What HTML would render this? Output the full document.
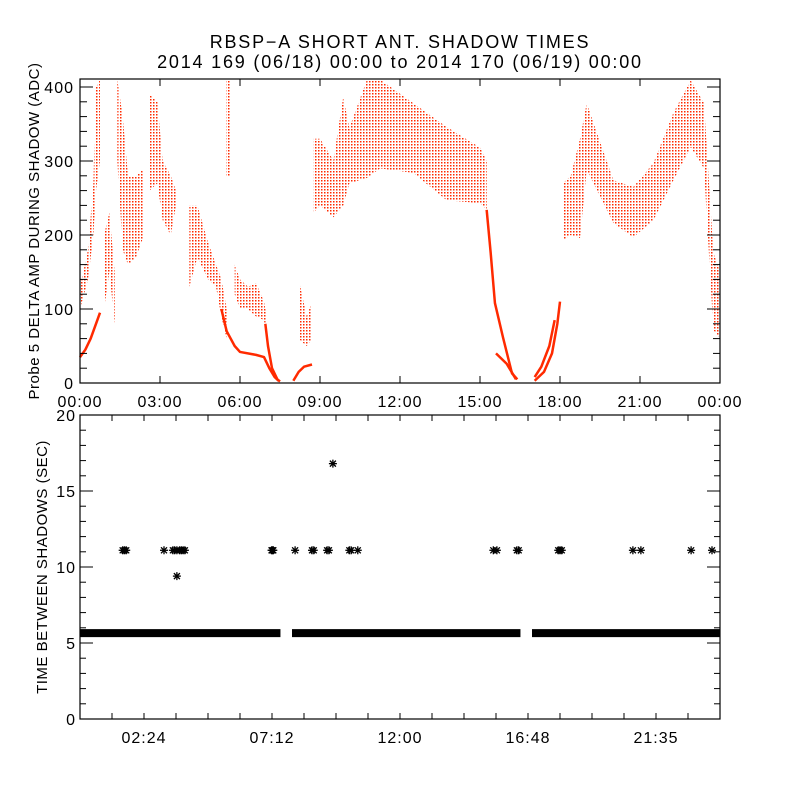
<!DOCTYPE html>
<html><head><meta charset="utf-8"><style>
html,body{margin:0;padding:0;background:#fff;}
svg{display:block;font-family:"Liberation Sans",sans-serif;}
</style></head><body>
<svg id="chart" width="800" height="800" viewBox="0 0 800 800">
<defs>
<pattern id="dots" width="3" height="3" patternUnits="userSpaceOnUse"><rect x="0" y="0" width="1.5" height="1.5" fill="#ff2a00"/></pattern>
</defs>
<text x="400" y="48" text-anchor="middle" font-size="18" letter-spacing="1.8">RBSP−A SHORT ANT. SHADOW TIMES</text>
<text x="400" y="68" text-anchor="middle" font-size="18" letter-spacing="1.8">2014 169 (06/18) 00:00 to 2014 170 (06/19) 00:00</text>
<g id="topPanel"></g>
<g id="botPanel"></g>
</svg>
<script>
// ---- top panel data (hours, ADC) ; null separates segments
const bandHours = [0.0,0.3,0.5,0.6,0.75,null, 0.9,1.1,1.3,null, 1.4,1.6,1.8,2.1,2.4,null, 2.6,2.9,3.1,3.4,3.6,null, 4.1,4.4,4.8,5.1,5.3,5.5,null, 5.48,5.62,null, 5.8,6.0,6.3,6.6,6.9,7.0,null, 8.2,8.5,8.7,null, 8.75,9.0,9.5,9.87,10.1,10.75,11.25,12.5,13.75,15.0,15.25,null, 18.1,18.4,18.75,19.0,20.0,20.75,21.5,22.25,22.9,23.4,23.75,24.0];
const bandLow   = [100,140,200,260,300,null, 100,150,80,null, 300,180,160,170,200,null, 260,270,220,200,240,null, 130,170,140,130,90,60,null, 280,280,null, 120,100,100,90,85,60,null, 60,50,60,null, 230,240,224,240,270,277,290,284,247,243,234,null, 193,200,196,288,216,197,220,274,319,290,72,60];
const bandHigh  = [130,180,270,400,410,null, 200,230,150,null, 410,360,280,280,290,null, 390,380,300,280,260,null, 240,240,190,160,140,100,null, 410,410,null, 160,140,130,135,110,90,null, 140,90,110,null, 330,330,301,386,345,409,410,378,346,318,300,null, 270,280,330,378,274,265,297,365,409,378,176,150];
const curveHours  = [0,0.2,0.4,0.6,0.75,null, 5.3,5.5,5.8,6.0,6.6,6.9,7.1,7.3,7.45,null, 6.95,7.05,7.2,7.4,7.5,null, 8.0,8.2,8.4,8.7,null, 15.25,15.4,15.56,15.86,16.2,16.4,null, 15.6,16.0,16.35,null, 17.05,17.4,17.7,17.9,18.0,null, 17.05,17.3,17.6,17.8];
const curveValues = [35,45,60,80,95,null, 100,70,50,42,38,35,20,8,3,null, 80,50,20,5,2,null, 3,15,22,25,null, 234,176,108,62,13,5,null, 40,26,5,null, 3,15,40,80,110,null, 8,22,50,85];
const topYTicks = [0,100,200,300,400];
const topXLabels = ["00:00","03:00","06:00","09:00","12:00","15:00","18:00","21:00","00:00"];
// ---- bottom panel data (minutes, seconds)
const runStart = [0,477,1017];
const runEnd   = [451,991,1440];
const runValue = [5.65,5.65,5.65];
const starMinutes = [96,100,104,189,209,213,218,224,228,232,236,218,431,433,435,484,522,526,556,560,569,606,610,625,930,938,983,987,1076,1080,1084,1244,1262,1375,1422];
const starValues  = [11.1,11.1,11.1,11.1,11.1,11.1,11.1,11.1,11.1,11.1,11.1,9.4,11.1,11.1,11.1,11.1,11.1,11.1,11.1,11.1,16.8,11.1,11.1,11.1,11.1,11.1,11.1,11.1,11.1,11.1,11.1,11.1,11.1,11.1,11.1];
const botYTicks = [0,5,10,15,20];
const botXLabels = ["02:24","07:12","12:00","16:48","21:35"];

const NS="http://www.w3.org/2000/svg";
function mk(tag,attrs,parent){const e=document.createElementNS(NS,tag);for(const k in attrs)e.setAttribute(k,attrs[k]);parent.appendChild(e);return e;}
const L=80,R=720;
const tx=h=>L+h/24*(R-L);
const tT=79,tB=383, ty=v=>tB-v*0.74;
const bT=415,bB=719, by=v=>bB-v*(bB-bT)/20;
const bx=m=>L+m/1440*(R-L);

const topG=document.getElementById('topPanel');
let seg=[];
function flushBand(){ if(seg.length<2){seg=[];return;}
  const pts=seg.map(p=>tx(p[0])+','+ty(p[2])).concat(seg.slice().reverse().map(p=>tx(p[0])+','+ty(p[1])));
  const poly=mk('polygon',{points:pts.join(' '),fill:'url(#dots)'},topG);
  
  
  seg=[];}
for(let i=0;i<bandHours.length;i++){ if(bandHours[i]===null){flushBand();continue;} seg.push([bandHours[i],bandLow[i],bandHigh[i]]); }
flushBand();
let cs=[];
function flushCurve(){ if(cs.length<2){cs=[];return;}
  const pl=mk('polyline',{points:cs.join(' '),fill:'none',stroke:'#ff2a00','stroke-width':2.5,'stroke-linejoin':'round'},topG);
  
  
  cs=[];}
for(let i=0;i<curveHours.length;i++){ if(curveHours[i]===null){flushCurve();continue;} cs.push(tx(curveHours[i])+','+ty(curveValues[i])); }
flushCurve();
const tbox=mk('rect',{x:L,y:tT,width:R-L,height:tB-tT,fill:'none',stroke:'#000','stroke-width':1.2},topG);


for(let v=0;v<=400;v+=20){const major=v%100===0;const len=major?13:7;
  mk('line',{x1:L,x2:L+len,y1:ty(v),y2:ty(v),stroke:'#000'},topG);
  mk('line',{x1:R,x2:R-len,y1:ty(v),y2:ty(v),stroke:'#000'},topG);}
topYTicks.forEach(v=>{const t=mk('text',{x:74,y:ty(v)+6,'text-anchor':'end','font-size':16,'letter-spacing':1},topG);t.textContent=v;
  
  });
topXLabels.forEach((s,i)=>{const x=tx(i*3);
  mk('line',{x1:x,x2:x,y1:tB,y2:tB-7,stroke:'#000'},topG);
  mk('line',{x1:x,x2:x,y1:tT,y2:tT+7,stroke:'#000'},topG);
  const t=mk('text',{x:x,y:407,'text-anchor':'middle','font-size':16,'letter-spacing':1},topG);t.textContent=s;
  
  });
const tyt=mk('text',{x:0,y:0,'text-anchor':'middle','font-size':15,'letter-spacing':0.5,transform:'translate(39,231) rotate(-90)'},topG);
tyt.textContent='Probe 5 DELTA AMP DURING SHADOW (ADC)';



const botG=document.getElementById('botPanel');
runStart.forEach((s,i)=>{const r=mk('rect',{x:bx(s),y:by(runValue[i])-4,width:bx(runEnd[i])-bx(s),height:8,fill:'#000'},botG);
  
  });
starMinutes.forEach((m,i)=>{const cx=bx(m),cy=by(starValues[i]);
  const g=mk('g',{stroke:'#000','stroke-width':1.3},botG);
  
  
  mk('line',{x1:cx-4,x2:cx+4,y1:cy,y2:cy},g);
  mk('line',{x1:cx,x2:cx,y1:cy-4,y2:cy+4},g);
  mk('line',{x1:cx-3,x2:cx+3,y1:cy-3,y2:cy+3},g);
  mk('line',{x1:cx-3,x2:cx+3,y1:cy+3,y2:cy-3},g);});
const bbox=mk('rect',{x:L,y:bT,width:R-L,height:bB-bT,fill:'none',stroke:'#000','stroke-width':1.2},botG);


for(let v=0;v<=20;v++){const major=v%5===0;const len=major?13:6;
  mk('line',{x1:L,x2:L+len,y1:by(v),y2:by(v),stroke:'#000'},botG);
  mk('line',{x1:R,x2:R-len,y1:by(v),y2:by(v),stroke:'#000'},botG);}
botYTicks.forEach(v=>{const t=mk('text',{x:76,y:by(v)+6,'text-anchor':'end','font-size':16,'letter-spacing':1},botG);t.textContent=v;
  
  });
for(let m=72;m<1440;m+=72){const x=bx(m);
  mk('line',{x1:x,x2:x,y1:bB,y2:bB-6,stroke:'#000'},botG);
  mk('line',{x1:x,x2:x,y1:bT,y2:bT+6,stroke:'#000'},botG);}
botXLabels.forEach((s,i)=>{const x=bx(144+i*288);
  const t=mk('text',{x:x,y:743,'text-anchor':'middle','font-size':16,'letter-spacing':1},botG);t.textContent=s;
  
  });
const byt=mk('text',{x:0,y:0,'text-anchor':'middle','font-size':15,'letter-spacing':0.5,transform:'translate(47,567) rotate(-90)'},botG);
byt.textContent='TIME BETWEEN SHADOWS (SEC)';


</script>
</body></html>
